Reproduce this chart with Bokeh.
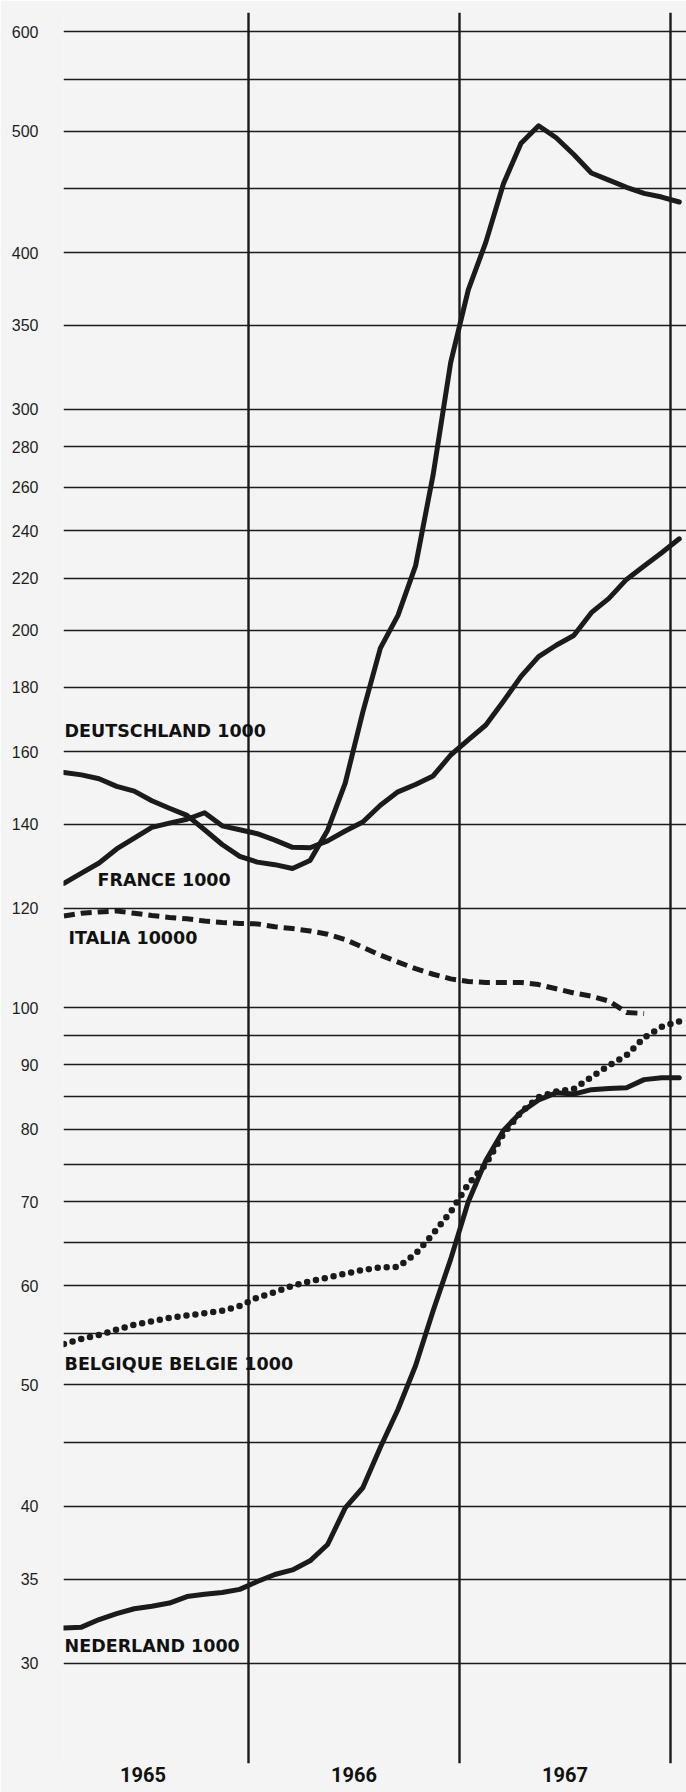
from bokeh.plotting import figure
from bokeh.models import Range1d, FixedTicker
from bokeh.core.properties import value
from bokeh.embed import file_html
from bokeh.resources import INLINE

# ---- data (monthly, Feb 1965 .. Jan 1968) ----
start_year = 1965
start_month = 2  # February

deutschland = [154.0, 153.3, 152.2, 150.1, 148.8, 146.2, 144.2, 142.3, 138.6, 134.9,
               132.0, 130.6, 130.0, 129.1, 131.0, 138.5, 151.0, 172.0, 193.5, 205.5,
               225.0, 266.0, 327.0, 373.6, 407.8, 454.0, 489.0, 505.0, 494.0, 479.0,
               463.0, 457.0, 451.0, 446.0, 443.0, 439.0]
france = [125.6, 128.0, 130.4, 133.8, 136.5, 139.2, 140.3, 141.3, 143.0, 139.6,
          138.6, 137.6, 136.0, 134.2, 134.1, 135.8, 138.3, 140.6, 145.0, 148.6,
          150.6, 153.0, 159.0, 163.5, 168.0, 175.5, 183.7, 190.5, 194.5, 198.0,
          206.5, 212.0, 219.5, 225.0, 230.5, 236.5]
italia = [118.3, 118.9, 119.2, 119.4, 118.9, 118.4, 118.0, 117.7, 117.2, 116.9,
          116.7, 116.6, 116.0, 115.6, 115.1, 114.4, 113.3, 111.7, 110.1, 108.7,
          107.4, 106.3, 105.4, 104.9, 104.7, 104.7, 104.7, 104.3, 103.5, 102.7,
          102.1, 101.2, 99.1, 98.9]
belgique = [53.9, 54.4, 54.8, 55.35, 55.85, 56.2, 56.55, 56.8, 57.05, 57.3,
            57.8, 58.7, 59.3, 60.0, 60.5, 60.9, 61.35, 61.75, 62.05, 62.1,
            63.6, 66.0, 68.7, 72.3, 75.0, 79.3, 82.5, 84.8, 85.7, 86.1,
            88.0, 89.9, 91.6, 94.6, 96.5, 97.5]
nederland = [32.0, 32.05, 32.5, 32.85, 33.15, 33.3, 33.5, 33.9, 34.05, 34.15,
             34.35, 34.85, 35.3, 35.6, 36.2, 37.3, 39.9, 41.4, 44.6, 47.8,
             51.8, 57.3, 63.0, 70.0, 75.5, 79.8, 82.5, 84.4, 85.5, 85.3,
             86.0, 86.2, 86.3, 87.6, 87.9, 87.9]

series_labels = ["DEUTSCHLAND 1000", "FRANCE 1000", "ITALIA 10000",
                 "BELGIQUE BELGIE 1000", "NEDERLAND 1000"]

years = ["1965", "1966", "1967"]
year_bounds = [1966, 1967, 1968]
y_labels = [600, 500, 400, 350, 300, 280, 260, 240, 220, 200, 180, 160, 140, 120,
            100, 90, 80, 70, 60, 50, 40, 35, 30]
y_grid = [600, 550, 500, 450, 400, 350, 300, 280, 260, 240, 220, 200, 180, 160,
          140, 120, 100, 95, 90, 85, 80, 75, 70, 65, 60, 55, 50, 45, 40, 35, 30]


def month_x(n):
    out = []
    for i in range(n):
        m = start_month - 1 + i
        out.append(start_year + m / 12 + 1 / 24)
    return out


INK = "#1b1b1b"
BG = "#f4f4f4"

p = figure(width=686, height=1792, y_axis_type="log",
           x_range=Range1d(1965.123, 1968.076), y_range=Range1d(24.95, 621.7),
           output_backend="svg", toolbar_location=None,
           min_border_left=63, min_border_right=0, min_border_top=12,
           min_border_bottom=29)
p.background_fill_color = BG
p.border_fill_color = BG
p.outline_line_color = None

# grids
p.ygrid.ticker = FixedTicker(ticks=y_grid)
p.ygrid.grid_line_color = INK
p.ygrid.grid_line_width = 1.6
p.xgrid.ticker = FixedTicker(ticks=year_bounds)
p.xgrid.grid_line_color = INK
p.xgrid.grid_line_width = 2.4

# y axis
p.yaxis.ticker = FixedTicker(ticks=y_labels)
p.yaxis.major_label_overrides = {v: str(v) for v in y_labels}
p.yaxis.axis_line_color = None
p.yaxis.major_tick_line_color = None
p.yaxis.minor_tick_line_color = None
p.yaxis.major_tick_out = 0
p.yaxis.major_tick_in = 0
p.yaxis.major_label_standoff = 25
p.yaxis.major_label_text_font = "Liberation Sans"
p.yaxis.major_label_text_font_size = "16px"
p.yaxis.major_label_text_color = "#1e1e1e"

# x axis
centers = [int(y) + 0.5 for y in years]
p.xaxis.ticker = FixedTicker(ticks=centers)
p.xaxis.major_label_overrides = {c: y for c, y in zip(centers, years)}
p.xaxis.axis_line_color = None
p.xaxis.major_tick_line_color = None
p.xaxis.minor_tick_line_color = None
p.xaxis.major_tick_out = 0
p.xaxis.major_tick_in = 0
p.xaxis.major_label_standoff = 3
p.xaxis.major_label_text_font = "Roboto"
p.xaxis.major_label_text_font_style = "bold"
p.xaxis.major_label_text_font_size = "20px"
p.xaxis.major_label_text_color = "#111111"

# series
p.line(month_x(len(deutschland)), deutschland, line_color=INK, line_width=5,
       line_join="round", line_cap="round")
p.line(month_x(len(france)), france, line_color=INK, line_width=5,
       line_join="round", line_cap="round")
p.line(month_x(len(italia)), italia, line_color=INK, line_width=5,
       line_dash="11 6", line_join="round")
p.line(month_x(len(belgique)), belgique, line_color=INK, line_width=6.5,
       line_dash="0 9", line_cap="round", line_join="round")
p.line(month_x(len(nederland)), nederland, line_color=INK, line_width=5,
       line_join="round", line_cap="round")

# series labels
label_x = [1965.128, 1965.284, 1965.147, 1965.128, 1965.128]
label_y = [166.3, 126.3, 113.7, 52.0, 30.98]
p.text(x=label_x, y=label_y, text=series_labels,
       text_font=value("DejaVu Sans"), text_font_style="bold",
       text_font_size="17.5px", text_color="#111111",
       text_align="left", text_baseline="middle")

open("out.html", "w").write(file_html(p, INLINE))
